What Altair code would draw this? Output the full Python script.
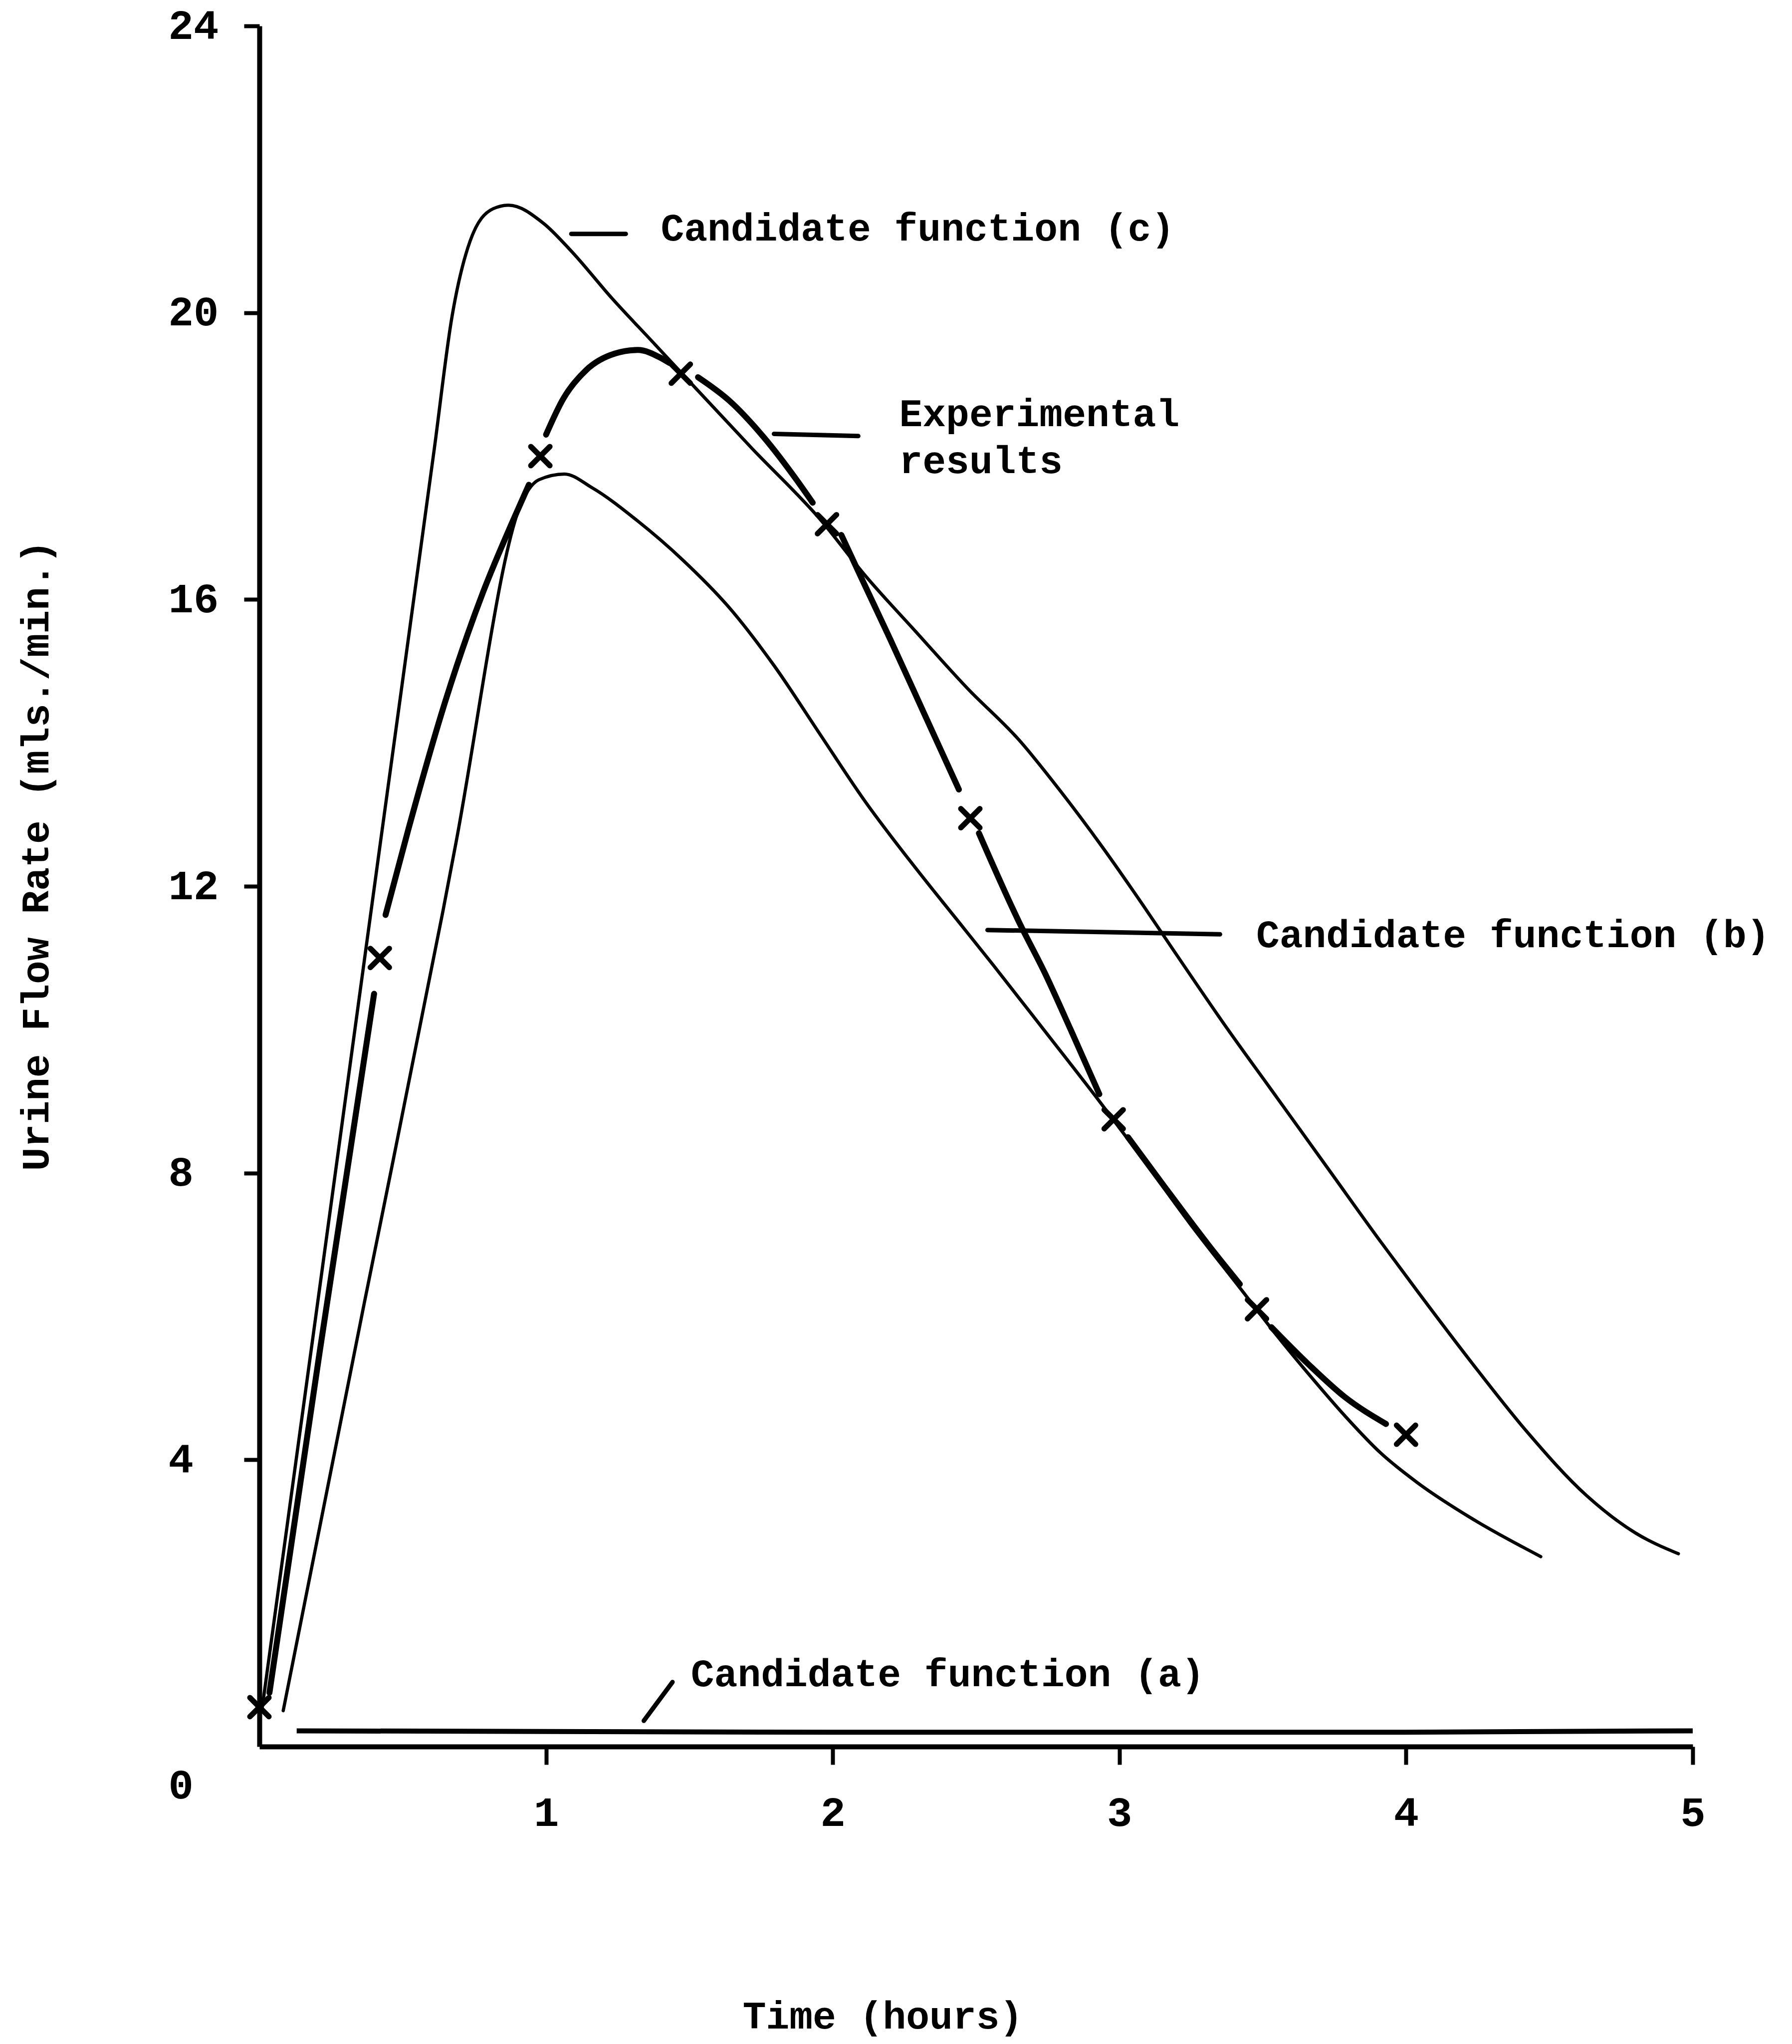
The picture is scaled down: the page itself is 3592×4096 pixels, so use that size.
import altair as alt
import pandas as pd

# Candidate function (c): sharp early peak, slow tail to 5 h
c_time = [0.01, 0.2, 0.42, 0.61, 0.672, 0.735, 0.815, 0.87, 0.99, 1.09, 1.23, 1.37,
          1.47, 1.72, 1.96, 2.11, 2.29, 2.47, 2.65, 2.79, 2.94, 3.08, 3.19, 3.37,
          3.55, 3.73, 3.91, 4.04, 4.23, 4.42, 4.63, 4.8, 4.95]
c_rate = [0.55, 6.1, 12.55, 18.1, 19.95, 21.0, 21.45, 21.5, 21.25, 20.85, 20.2, 19.6,
          19.17, 18.1, 17.1, 16.35, 15.55, 14.76, 14.04, 13.35, 12.55, 11.75, 11.1, 10.05,
          9.05, 8.05, 7.05, 6.35, 5.35, 4.4, 3.5, 2.98, 2.69]

# Candidate function (b): lower peak near 1 h
b_time = [0.083, 0.366, 0.64, 0.683, 0.92, 0.975, 1.064, 1.16, 1.318, 1.477, 1.636,
          1.795, 1.954, 2.11, 2.29, 2.43, 2.56, 2.74, 2.94, 3.09, 3.245, 3.42, 3.546,
          3.67, 3.785, 3.91, 4.04, 4.23, 4.47]
b_rate = [0.5, 6.19, 11.65, 12.55, 17.4, 17.67, 17.75, 17.56, 17.1, 16.55, 15.9,
          15.08, 14.13, 13.2, 12.25, 11.55, 10.9, 9.98, 8.95, 8.15, 7.3, 6.4, 5.75,
          5.15, 4.62, 4.1, 3.68, 3.18, 2.65]

# Candidate function (a): almost flat near zero
a_time = [0.13, 1.0, 2.0, 3.0, 4.0, 5.0]
a_rate = [0.22, 0.21, 0.2, 0.2, 0.2, 0.22]

# Experimental results: measured points
exp_time = [0.0, 0.42, 0.98, 1.47, 1.98, 2.48, 2.98, 3.48, 4.0]
exp_rate = [0.55, 11.0, 18.0, 19.15, 17.05, 12.95, 8.75, 6.1, 4.35]

# Experimental results: hand-faired curve, broken at each measured point
exp_seg = [0, 0, 0,
           1, 1, 1, 1, 1, 1,
           2, 2, 2, 2, 2, 2, 2,
           3, 3, 3, 3, 3,
           4, 4, 4, 4, 4,
           5, 5, 5, 5, 5,
           6, 6, 6, 6,
           7, 7, 7, 7]
exp_seg_time = [0.035, 0.21, 0.40,
                0.44, 0.52, 0.65, 0.78, 0.89, 0.94,
                1.0, 1.06, 1.14, 1.24, 1.32, 1.40, 1.43,
                1.53, 1.64, 1.76, 1.87, 1.93,
                2.03, 2.1, 2.2, 2.32, 2.44,
                2.51, 2.65, 2.74, 2.83, 2.93,
                3.03, 3.15, 3.31, 3.42,
                3.53, 3.66, 3.785, 3.93]
exp_seg_rate = [0.75, 5.5, 10.5,
                11.6, 12.8, 14.6, 16.1, 17.15, 17.6,
                18.3, 18.8, 19.2, 19.43, 19.48, 19.37, 19.3,
                19.1, 18.77, 18.26, 17.69, 17.35,
                16.9, 16.3, 15.45, 14.4, 13.35,
                12.74, 11.5, 10.79, 10.0, 9.1,
                8.5, 7.85, 7.0, 6.45,
                5.85, 5.33, 4.88, 4.5]

# Leader lines from each caption to its curve
leader_t1 = [1.088, 1.795, 2.54, 1.341]
leader_v1 = [21.1, 18.31, 11.39, 0.36]
leader_t2 = [1.278, 2.089, 3.351, 1.441]
leader_v2 = [21.1, 18.28, 11.33, 0.9]

# Captions (left edge, baseline)
label_text = ["Candidate function (c)", "Experimental", "results",
              "Candidate function (b)", "Candidate function (a)"]
label_time = [1.4, 2.232, 2.232, 3.477, 1.505]
label_rate = [21.01, 18.42, 17.76, 11.15, 0.84]

x_ticks = [1, 2, 3, 4, 5]
y_ticks = [0, 4, 8, 12, 16, 20, 24]

FONT = "Liberation Mono"
INK = "black"

xs = alt.Scale(domain=[0, 5], nice=False, zero=False)
ys = alt.Scale(domain=[0, 24], nice=False, zero=False)

x_axis = alt.Axis(
    values=x_ticks, format="d", grid=False,
    title="Time (hours)", titleFont=FONT, titleFontSize=78, titleFontWeight="bold",
    titleColor=INK, titleX=1249, titleY=541, titleAlign="center", titleBaseline="middle",
    labelFont=FONT, labelFontSize=84, labelFontWeight="bold", labelColor=INK,
    labelPadding=97, labelBaseline="middle", labelFlush=False, labelOverlap=False,
    tickSize=36, tickWidth=8, tickColor=INK, domainColor=INK, domainWidth=10,
)
y_axis = alt.Axis(
    values=y_ticks, format="d", grid=False,
    title="Urine Flow Rate (mls./min.)", titleFont=FONT, titleFontSize=78,
    titleFontWeight="bold", titleColor=INK, titleAngle=270, titleX=-447, titleY=1662,
    titleAlign="center", titleBaseline="middle",
    labelFont=FONT, labelFontSize=84, labelFontWeight="bold", labelColor=INK,
    labelAlign="left", labelBaseline="middle", labelPadding=152,
    labelFlush=False, labelOverlap=False,
    labelOffset={"condition": {"test": "datum.value === 0", "value": 78}, "value": 0},
    tickOpacity={"condition": {"test": "datum.value === 0", "value": 0}, "value": 1},
    tickSize=31, tickWidth=8, tickColor=INK, domainColor=INK, domainWidth=10,
)

X = alt.X("time:Q", scale=xs, axis=x_axis)
Y = alt.Y("rate:Q", scale=ys, axis=y_axis)

c_df = pd.DataFrame({"time": c_time, "rate": c_rate})
b_df = pd.DataFrame({"time": b_time, "rate": b_rate})
a_df = pd.DataFrame({"time": a_time, "rate": a_rate})
pts_df = pd.DataFrame({"time": exp_time, "rate": exp_rate})
seg_df = pd.DataFrame({"seg": exp_seg, "time": exp_seg_time, "rate": exp_seg_rate})
lead_df = pd.DataFrame({"time": leader_t1, "rate": leader_v1,
                        "time2": leader_t2, "rate2": leader_v2})
lab_df = pd.DataFrame({"label": label_text, "time": label_time, "rate": label_rate})

thin = dict(color=INK, strokeWidth=6.5, interpolate="monotone", strokeCap="round",
            strokeJoin="round")

c_line = alt.Chart(c_df).mark_line(**thin).encode(x=X, y=Y)
b_line = alt.Chart(b_df).mark_line(**thin).encode(x=X, y=Y)
a_line = alt.Chart(a_df).mark_line(color=INK, strokeWidth=10, strokeCap="butt").encode(x=X, y=Y)

exp_line = alt.Chart(seg_df).mark_line(
    color=INK, strokeWidth=12, interpolate="monotone", strokeCap="round", strokeJoin="round"
).encode(x=X, y=Y, detail="seg:N")

exp_marks = alt.Chart(pts_df).mark_point(
    shape="M-1,-1L1,1M1,-1L-1,1", size=1444, stroke=INK, strokeWidth=11,
    filled=False, opacity=1, strokeCap="round"
).encode(x=X, y=Y)

leaders = alt.Chart(lead_df).mark_rule(color=INK, strokeWidth=9, strokeCap="round").encode(
    x=X, y=Y, x2="time2:Q", y2="rate2:Q"
)

captions = alt.Chart(lab_df).mark_text(
    font=FONT, fontSize=78, fontWeight="bold", color=INK, align="left",
    baseline="alphabetic"
).encode(x=X, y=Y, text="label:N")

chart = alt.layer(
    a_line, b_line, c_line, exp_line, exp_marks, leaders, captions
).properties(
    width=2873, height=3448,
    autosize=alt.AutoSizeParams(type="none"),
    padding={"left": 520, "top": 52, "right": 199, "bottom": 596},
    background="white",
).configure_view(stroke=None)

chart.save("out.html", embed_options={"renderer": "svg", "actions": False})
